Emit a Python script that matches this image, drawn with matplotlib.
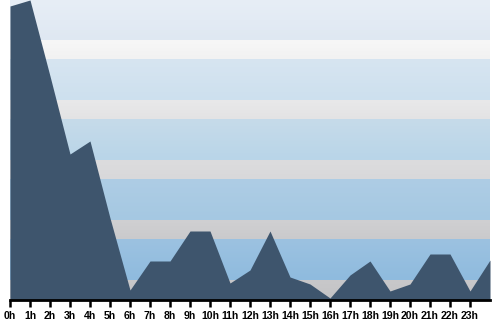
import numpy as np
import matplotlib
matplotlib.use("Agg")
import matplotlib.pyplot as plt
from matplotlib.colors import to_rgb

# hourly values (last point is the next day's 0h, clipped at the edge)
hours = list(range(25))
hour_labels = ["%dh" % h for h in range(24)]
values = [294, 300, 224, 146, 159, 82, 10, 39, 39, 69, 69, 17, 30, 69,
          23, 16, 2, 25, 39, 9, 16, 46, 46, 9, 40]

# background bands, from the bottom up: (low, high, colour at bottom, colour at top)
bands = [
    (0, 20, "#c3c3c5", "#c8c8ca"),
    (20, 61, "#8fbbde", "#9cc2e1"),
    (61, 80, "#cacacc", "#d0d0d2"),
    (80, 121, "#a5c8e2", "#aecde5"),
    (121, 140, "#d8d8da", "#dcdcde"),
    (140, 181, "#b9d5e8", "#c6dbea"),
    (181, 200, "#e3e3e4", "#e9e9ea"),
    (200, 241, "#cde0ee", "#d7e5f1"),
    (241, 260, "#f2f2f2", "#f7f7f7"),
    (260, 300, "#dfe8f2", "#e7eef6"),
]

fig = plt.figure(figsize=(5, 3.2), dpi=100)
ax = fig.add_axes([0.02, 0.0625, 0.96, 0.9375])

for lo, hi, c0, c1 in bands:
    t = np.linspace(0, 1, 50)[:, None]
    grad = (1 - t) * np.array(to_rgb(c0)) + t * np.array(to_rgb(c1))
    ax.imshow(grad.reshape(50, 1, 3), extent=[0, 24, lo, hi],
              origin="lower", aspect="auto", interpolation="bilinear", zorder=0)

ax.fill_between(hours, values, 0, color="#3e556d", lw=0, zorder=2)

ax.set_xlim(0, 24)
ax.set_ylim(0, 300)
ax.set_xticks(range(24))
ax.set_xticklabels(hour_labels, fontfamily="Liberation Sans",
                   fontweight="bold", fontsize=7.6)
ax.set_yticks([])
for s in ["top", "right", "left"]:
    ax.spines[s].set_visible(False)
ax.spines["bottom"].set_linewidth(2)
ax.spines["bottom"].set_zorder(3)
ax.tick_params(axis="x", length=5, width=1.8, pad=3, color="black")

fig.savefig("out.png", dpi=100)
